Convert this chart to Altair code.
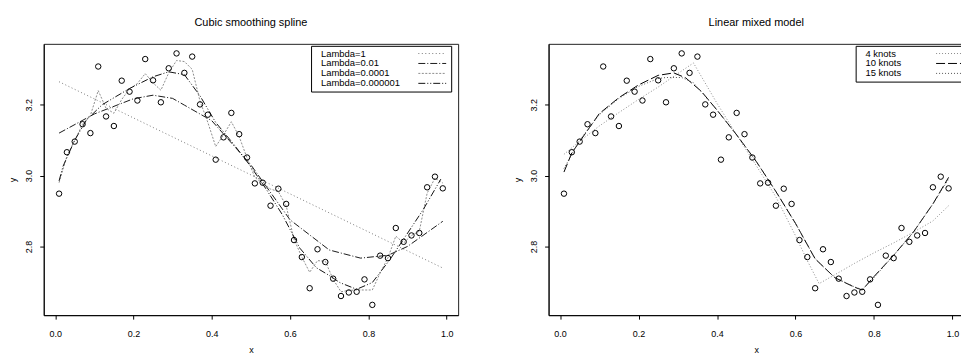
import altair as alt
import pandas as pd

FONT = "Liberation Sans"

# ---------------- observed data ----------------
x_obs = [0.01, 0.03, 0.05, 0.07, 0.09, 0.11, 0.13, 0.15, 0.17, 0.19,
         0.21, 0.23, 0.25, 0.27, 0.29, 0.31, 0.33, 0.35, 0.37, 0.39,
         0.41, 0.43, 0.45, 0.47, 0.49, 0.51, 0.53, 0.55, 0.57, 0.59,
         0.61, 0.63, 0.65, 0.67, 0.69, 0.71, 0.73, 0.75, 0.77, 0.79,
         0.81, 0.83, 0.85, 0.87, 0.89, 0.91, 0.93, 0.95, 0.97, 0.99]
y_obs = [2.949, 3.066, 3.096, 3.145, 3.120, 3.308, 3.167, 3.140, 3.268, 3.237,
         3.212, 3.329, 3.269, 3.207, 3.303, 3.345, 3.290, 3.336, 3.201, 3.172,
         3.045, 3.108, 3.177, 3.117, 3.051, 2.978, 2.980, 2.915, 2.963, 2.920,
         2.818, 2.770, 2.682, 2.792, 2.756, 2.709, 2.660, 2.670, 2.672, 2.707,
         2.635, 2.774, 2.767, 2.852, 2.813, 2.831, 2.838, 2.967, 2.997, 2.964]

# ---------------- cubic smoothing spline fits ----------------
lam1_x = [0.01, 0.25, 0.5, 0.75, 0.99]
lam1_y = [3.265, 3.136, 3.002, 2.868, 2.739]

lam2_x = [0.01, 0.1, 0.2, 0.25, 0.3, 0.33, 0.4, 0.5, 0.6, 0.7, 0.78, 0.85, 0.9, 0.99]
lam2_y = [3.120, 3.174, 3.217, 3.227, 3.218, 3.199, 3.155, 3.030, 2.875, 2.790, 2.767, 2.775, 2.800, 2.871]

lam3_x = x_obs
lam3_y = [2.980, 3.055, 3.100, 3.145, 3.170, 3.240, 3.190, 3.176, 3.215, 3.245,
          3.260, 3.288, 3.262, 3.241, 3.290, 3.325, 3.322, 3.300, 3.210, 3.150,
          3.082, 3.115, 3.152, 3.110, 3.050, 2.995, 2.978, 2.962, 2.955, 2.915,
          2.820, 2.770, 2.727, 2.760, 2.758, 2.707, 2.672, 2.676, 2.677, 2.677,
          2.677, 2.725, 2.768, 2.829, 2.810, 2.831, 2.843, 2.950, 2.993, 2.979]

lam4_x = [0.01, 0.02, 0.05, 0.08, 0.12, 0.19, 0.25, 0.29, 0.33, 0.37, 0.41, 0.455,
          0.5, 0.54, 0.58, 0.625, 0.667, 0.7, 0.727, 0.77, 0.81, 0.855, 0.895, 0.94, 0.985]
lam4_y = [2.985, 3.026, 3.100, 3.157, 3.200, 3.246, 3.279, 3.293, 3.285, 3.225, 3.150, 3.090,
          3.025, 2.960, 2.890, 2.795, 2.740, 2.718, 2.698, 2.679, 2.698, 2.763, 2.829, 2.904, 2.990]

lam_labels = ["Lambda=1", "Lambda=0.01", "Lambda=0.0001", "Lambda=0.000001"]

# ---------------- linear mixed model fits ----------------
k4_x = [0.01, 0.05, 0.1, 0.15, 0.2, 0.25, 0.3, 0.34, 0.4, 0.45, 0.5, 0.55, 0.6,
        0.63, 0.66, 0.7, 0.75, 0.8, 0.85, 0.9, 0.95, 0.99]
k4_y = [3.060, 3.097, 3.140, 3.178, 3.215, 3.250, 3.288, 3.318, 3.204, 3.115, 3.028, 2.940, 2.830,
        2.760, 2.695, 2.720, 2.752, 2.782, 2.810, 2.840, 2.872, 2.915]

k10_x = [0.01, 0.03, 0.05, 0.1, 0.15, 0.2, 0.25, 0.29, 0.32, 0.36, 0.4, 0.45, 0.5,
         0.55, 0.6, 0.65, 0.7, 0.75, 0.77, 0.8, 0.85, 0.9, 0.95, 0.99]
k10_y = [3.010, 3.064, 3.096, 3.175, 3.220, 3.256, 3.283, 3.290, 3.276, 3.238, 3.185, 3.115, 3.040,
         2.955, 2.865, 2.765, 2.712, 2.685, 2.677, 2.715, 2.775, 2.840, 2.920, 2.995]

k15_x = [0.01, 0.05, 0.1, 0.15, 0.2, 0.25, 0.27, 0.31, 0.34, 0.4, 0.45, 0.5,
         0.55, 0.6, 0.65, 0.7, 0.75, 0.77, 0.8, 0.85, 0.9, 0.95, 0.99]
k15_y = [3.020, 3.100, 3.172, 3.218, 3.252, 3.274, 3.277, 3.277, 3.262, 3.185, 3.115, 3.040,
         2.955, 2.865, 2.765, 2.712, 2.686, 2.678, 2.712, 2.775, 2.840, 2.920, 2.990]

knot_labels = ["4 knots", "10 knots", "15 knots"]


def long_table(pairs, labels):
    rows = []
    for (xs, ys), lab in zip(pairs, labels):
        for xv, yv in zip(xs, ys):
            rows.append({"x": xv, "y": yv, "series": lab})
    return pd.DataFrame(rows)


obs_df = pd.DataFrame({"x": x_obs, "y": y_obs})
left_df = long_table([(lam1_x, lam1_y), (lam2_x, lam2_y), (lam3_x, lam3_y), (lam4_x, lam4_y)], lam_labels)
right_df = long_table([(k4_x, k4_y), (k10_x, k10_y), (k15_x, k15_y)], knot_labels)

x_dom = [-0.0292, 1.0292]
y_dom = [2.606, 3.372]


def x_enc():
    return alt.X("x:Q", scale=alt.Scale(domain=x_dom, nice=False, zero=False),
                 axis=alt.Axis(values=[0, 0.2, 0.4, 0.6, 0.8, 1.0], format=".1f", title="x",
                               grid=False, labelPadding=10, titlePadding=8))


def y_enc():
    return alt.Y("y:Q", scale=alt.Scale(domain=y_dom, nice=False, zero=False),
                 axis=alt.Axis(values=[2.8, 3.0, 3.2], format=".1f", title="y", grid=False,
                               labelAngle=270, labelAlign="center", labelBaseline="bottom",
                               labelPadding=6, titlePadding=7))


# legend line symbol: a horizontal path scaled so that it is SYM px long
SYM = 28.0
ROOT = SYM / 5.0            # sqrt(size) for path "M-5,0H5"
SIZE = ROOT * ROOT


def legend(lx, sym_center):
    sym_off = sym_center - ROOT / 2.0
    return alt.Legend(title=None, orient="none", legendX=lx, legendY=2,
                      symbolType="M-5,0H5", symbolSize=SIZE, symbolStrokeWidth=1,
                      symbolOffset=sym_off,
                      labelOffset=alt.ExprRef(expr=str(round(3 - ROOT - sym_off, 2))),
                      rowPadding=alt.ExprRef(expr="-3.6"),
                      labelFontSize=9.5, labelFont=FONT, labelColor="black", labelLimit=300,
                      padding=3, strokeColor="black", fillColor="white",
                      cornerRadius=0)


def panel(lines_df, labels, colors, dashes, lx, sym_center, title, width):
    lg = legend(lx, sym_center)
    lines = alt.Chart(lines_df).mark_line(strokeWidth=1, clip=True).encode(
        x=x_enc(), y=y_enc(),
        color=alt.Color("series:N", scale=alt.Scale(domain=labels, range=colors), legend=lg),
        strokeDash=alt.StrokeDash("series:N", scale=alt.Scale(domain=labels, range=dashes), legend=lg),
    )
    pts = alt.Chart(obs_df).mark_point(shape="circle", filled=False, size=30,
                                       color="black", strokeWidth=1, opacity=1).encode(
        x=x_enc(), y=y_enc())
    return alt.layer(lines, pts).properties(
        width=width, height=273,
        title=alt.TitleParams(title, fontSize=11, fontWeight="normal", font=FONT,
                              anchor="middle", offset=16, color="black"))


left = panel(left_df, lam_labels,
             ["#7a7a7a", "#1a1a1a", "#8c8c8c", "#111111"],
             [[1, 2.5], [7, 2, 1, 2], [2, 1.5], [7, 2, 1, 2, 1, 2]],
             269, 117, "Cubic smoothing spline", 417)

right = panel(right_df, knot_labels,
              ["#8a8a8a", "#000000", "#555555"],
              [[1, 2], [9, 3], [1, 2]],
              309, 90, "Linear mixed model", 418)

chart = alt.hconcat(left, right, spacing=54).resolve_scale(
    x="independent", y="independent", color="independent", strokeDash="independent"
).resolve_legend(color="independent", strokeDash="independent").properties(
    padding={"left": 8, "top": 15, "right": -9, "bottom": 0}
).configure(background="white").configure_view(
    stroke="#222", strokeWidth=1
).configure_axis(
    grid=False, domain=True, domainColor="black", domainWidth=1,
    tickColor="black", tickSize=4, tickWidth=1,
    labelFont=FONT, labelFontSize=9, labelColor="black",
    titleFont=FONT, titleFontSize=9, titleFontWeight="normal", titleColor="black"
)

chart.save("out.html", embed_options={"renderer": "svg", "actions": False})
